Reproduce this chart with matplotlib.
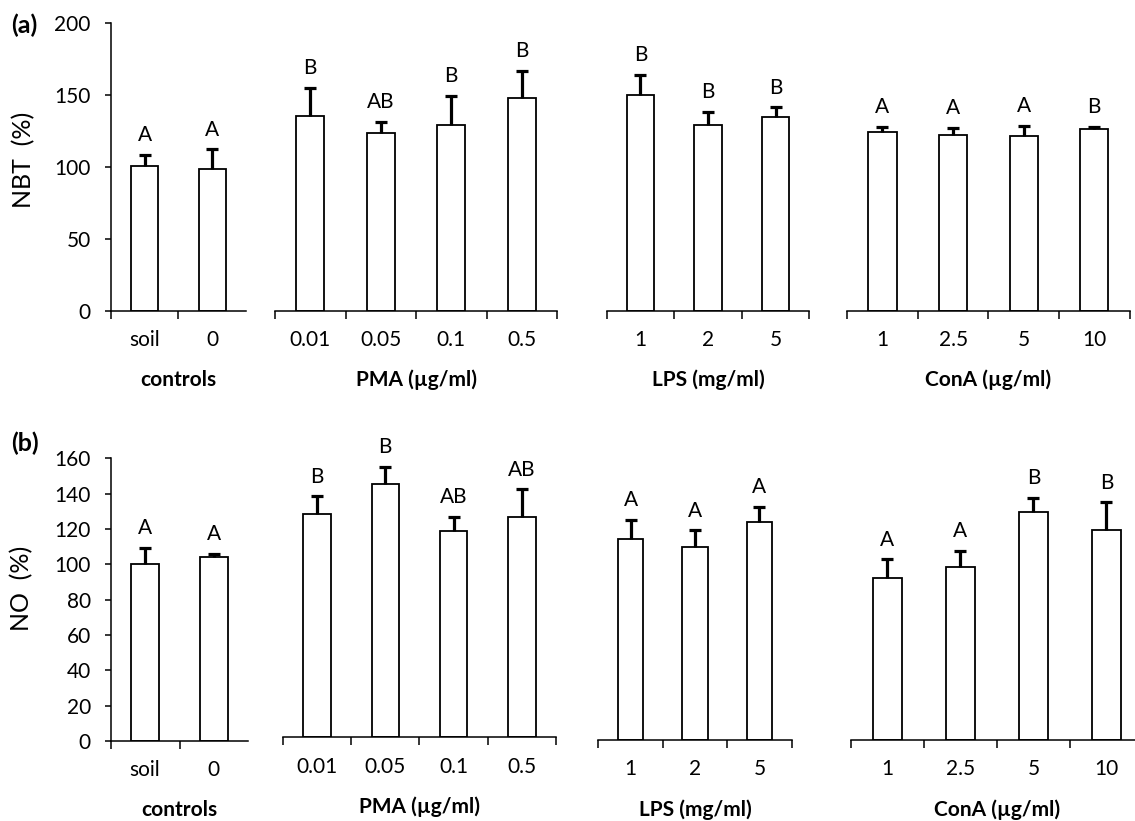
import matplotlib
matplotlib.use('Agg')
import matplotlib.pyplot as plt
import numpy as np

plt.rcParams['font.family'] = ['Lato', 'DejaVu Sans']

group_titles = ['controls', 'PMA (\u00b5g/ml)', 'LPS (mg/ml)', 'ConA (\u00b5g/ml)']
group_ticks = [['soil', '0'],
               ['0.01', '0.05', '0.1', '0.5'],
               ['1', '2', '5'],
               ['1', '2.5', '5', '10']]

# (a) NBT, percent of soil control
nbt_mean = [[100.5, 98.1],
            [135.0, 123.1, 128.7, 147.5],
            [150.0, 128.7, 134.3],
            [124.1, 121.8, 121.1, 125.9]]
nbt_err = [[7.8, 13.9],
           [19.9, 7.9, 20.4, 18.9],
           [13.9, 9.5, 6.9],
           [3.7, 5.3, 7.1, 1.6]]
nbt_letters = [['A', 'A'],
               ['B', 'AB', 'B', 'B'],
               ['B', 'B', 'B'],
               ['A', 'A', 'A', 'B']]

# (b) NO, percent of soil control
no_mean = [[100.4, 104.3],
           [126.4, 143.6, 116.8, 124.5],
           [114.0, 109.4, 123.4],
           [91.5, 97.7, 129.1, 118.9]]
no_err = [[8.8, 1.5],
          [10.0, 9.6, 8.1, 15.9],
          [10.7, 9.3, 8.7],
          [10.8, 9.5, 8.1, 15.6]]
no_letters = [['A', 'A'],
              ['B', 'B', 'AB', 'AB'],
              ['A', 'A', 'A'],
              ['A', 'A', 'B', 'B']]

W, H = 1135, 821
# axes boxes in pixels: left, right, y of zero line
boxes_a = [(110.7, 246.0, 310.7), (275.0, 557.0, 310.7),
           (606.6, 809.4, 310.7), (847.2, 1129.5, 310.7)]
boxes_b = [(110.7, 248.3, 741.0), (282.7, 556.0, 737.3),
           (598.3, 791.7, 740.0), (850.7, 1143.0, 740.0)]
FS = 15


def make_axes(fig, box, height_px):
    left, right, base = box
    return fig.add_axes([left / W, 1 - base / H, (right - left) / W, height_px / H])


def draw_group(ax, ticks, mean, err, letters, title, ymax, yticks, first):
    n = len(ticks)
    x = np.arange(n)
    ax.bar(x, mean, width=0.4, color='white', edgecolor='black',
           linewidth=1.3, zorder=2)
    _, caps, _ = ax.errorbar(x, mean, yerr=[np.zeros(n), err], fmt='none',
                             ecolor='black', elinewidth=2.3, capsize=4,
                             capthick=2.3, zorder=3)
    caps[0].set_visible(False)
    tops = np.add(mean, err)
    for xi, top, letter in zip(x, tops, letters):
        ax.annotate(letter, (xi, top), xytext=(0, 7), textcoords='offset points',
                    ha='center', va='bottom', fontsize=FS)

    ax.set_xlim(-0.5, n - 0.5)
    ax.set_ylim(0, ymax)
    ax.set_xticks(x)
    ax.set_xticklabels(ticks)
    edges = np.arange(n + 1) - 0.5
    if first:
        edges = edges[:-1]
    ax.set_xticks(edges, minor=True)
    ax.tick_params(axis='x', which='major', length=0, pad=14, labelsize=FS)
    ax.tick_params(axis='x', which='minor', length=5.8, width=1.1,
                   direction='out')

    for side in ['top', 'right']:
        ax.spines[side].set_visible(False)
    ax.spines['bottom'].set_linewidth(1.1)
    if first:
        ax.spines['left'].set_linewidth(1.1)
        ax.set_yticks(yticks)
        ax.tick_params(axis='y', length=4.3, width=1.1, pad=10, labelsize=FS)
    else:
        ax.spines['left'].set_visible(False)
        ax.set_yticks([])

    ax.annotate(title, (0.5, 0), xycoords='axes fraction', xytext=(0, -50),
                textcoords='offset points', ha='center', va='center',
                fontsize=FS, fontweight='bold')
    ax.patch.set_alpha(0)


fig = plt.figure(figsize=(W / 100, H / 100), dpi=100)

for i in range(4):
    ax = make_axes(fig, boxes_a[i], 288.0)
    draw_group(ax, group_ticks[i], nbt_mean[i], nbt_err[i], nbt_letters[i],
               group_titles[i], 200, np.arange(0, 201, 50), i == 0)

for i in range(4):
    ax = make_axes(fig, boxes_b[i], 282.7)
    draw_group(ax, group_ticks[i], no_mean[i], no_err[i], no_letters[i],
               group_titles[i], 160, np.arange(0, 161, 20), i == 0)

fig.text(11 / W, 1 - 25 / H, '(a)', fontsize=18, fontweight='bold',
         ha='left', va='center')
fig.text(11 / W, 1 - 443 / H, '(b)', fontsize=18, fontweight='bold',
         ha='left', va='center')
fig.text(24 / W, 1 - 160 / H, 'NBT  (%)', fontsize=18, rotation=90,
         ha='center', va='center')
fig.text(22 / W, 1 - 588 / H, 'NO  (%)', fontsize=18, rotation=90,
         ha='center', va='center')

fig.savefig('out.png', dpi=100)
